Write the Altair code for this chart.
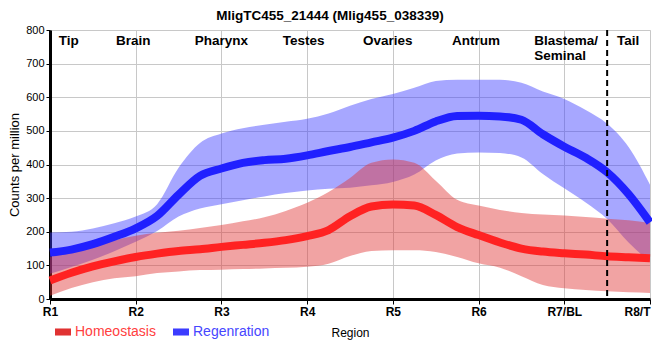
import altair as alt
import pandas as pd

# ---- data ----
x_pos = [1, 1.25, 1.5, 1.75, 2, 2.25, 2.5, 2.75, 3, 3.25, 3.5, 3.75, 4, 4.25,
         4.5, 4.75, 5, 5.25, 5.5, 5.75, 6, 6.25, 6.5, 6.75, 7, 7.25, 7.5, 7.75, 8]

homeo_mean = [55, 78, 97, 112, 125, 135, 143, 148, 155, 161, 167, 175, 187, 205,
              246, 275, 281, 278, 250, 214, 190, 168, 150, 141, 136, 132, 127, 124, 121]
homeo_hi = [125, 145, 160, 175, 188, 197, 203, 211, 220, 231, 243, 262, 286, 318,
            360, 405, 415, 405, 352, 295, 278, 265, 256, 251, 248, 244, 239, 234, 226]
homeo_lo = [10, 33, 50, 62, 68, 77, 82, 86, 87, 89, 91, 93, 96, 105,
            128, 143, 145, 145, 140, 125, 106, 93, 68, 42, 32, 27, 23, 20, 18]

regen_mean = [138, 147, 163, 185, 210, 247, 310, 366, 388, 405, 413, 417, 427, 440,
              452, 466, 480, 500, 528, 544, 545, 543, 533, 490, 453, 420, 377, 312, 228]
regen_hi = [198, 200, 210, 225, 245, 282, 390, 464, 492, 508, 518, 527, 536, 552,
            575, 595, 610, 628, 648, 652, 652, 652, 643, 617, 595, 562, 521, 452, 340]
regen_lo = [75, 95, 117, 142, 170, 202, 245, 269, 282, 294, 305, 315, 323, 328,
            331, 338, 348, 370, 412, 433, 436, 434, 421, 372, 329, 287, 238, 168, 110]

series_names = ["Homeostasis", "Regenration"]
tick_values = [1, 2, 3, 4, 5, 6, 7, 8]
tick_labels = ["R1", "R2", "R3", "R4", "R5", "R6", "R7/BL", "R8/T"]

region_names = ["Tip", "Brain", "Pharynx", "Testes", "Ovaries", "Antrum", "Tail"]
region_x = [1.22, 1.97, 3.0, 3.96, 4.94, 5.97, 7.745]
blastema_name = ["Blastema/\nSeminal"]
blastema_x = [6.65]
boundary_x = [7.5]

title_text = "MligTC455_21444 (Mlig455_038339)"

FONT = "Liberation Sans"

# ---- tables ----
rows = []
for i, xv in enumerate(x_pos):
    rows.append({"x": xv, "series": series_names[0], "mean": homeo_mean[i],
                 "lo": homeo_lo[i], "hi": homeo_hi[i]})
    rows.append({"x": xv, "series": series_names[1], "mean": regen_mean[i],
                 "lo": regen_lo[i], "hi": regen_hi[i]})
df = pd.DataFrame(rows)
df_h = df[df["series"] == series_names[0]]
df_r = df[df["series"] == series_names[1]]

regions_df = pd.DataFrame({"x": region_x, "label": region_names})
blastema_df = pd.DataFrame({"x": blastema_x, "label": blastema_name})
boundary_df = pd.DataFrame({"x": boundary_x})

label_expr = "[" + ",".join("'%s'" % t for t in tick_labels) + "][datum.value - 1]"
last_tick = tick_values[-1]

x_enc = alt.X(
    "x:Q",
    scale=alt.Scale(domain=[1, 8], nice=False, zero=False),
    axis=alt.Axis(
        values=tick_values, labelExpr=label_expr, title="Region",
        grid=True, gridColor="#c8c8c8", gridWidth=1,
        domainColor="black", domainWidth=3,
        tickColor="black", tickSize=5, tickWidth=1,
        labelFont=FONT, labelFontSize=12, labelFontWeight="bold", labelColor="black",
        labelAlign={"condition": {"test": "datum.value == %d" % last_tick, "value": "right"},
                    "value": "center"},
        labelPadding=2, labelFlush=False, labelOverlap=False, labelBound=False,
        titleFont=FONT, titleFontSize=12, titleFontWeight="normal", titleColor="black",
        titlePadding=10,
    ),
)

y_axis = alt.Axis(
    values=list(range(0, 801, 100)), title="Counts per million",
    grid=True, gridColor="#c8c8c8", gridWidth=1,
    domainColor="black", domainWidth=3,
    tickColor="black", tickSize=4, tickWidth=1,
    labelFont=FONT, labelFontSize=11, labelColor="black", labelPadding=2,
    labelFlush=False, labelOverlap=False,
    titleFont=FONT, titleFontSize=13, titleFontWeight="normal", titleColor="black",
    titlePadding=4,
)
y_scale = alt.Scale(domain=[0, 800], nice=False, zero=True)

fill_scale = alt.Scale(domain=series_names, range=["#e03232", "#3c3cff"])
stroke_scale = alt.Scale(domain=series_names, range=["#ff2222", "#2020ff"])

legend = alt.Legend(
    orient="none", legendX=5, legendY=294, direction="horizontal", title=None,
    symbolType="M-1,-0.44H1V0.44H-1Z", symbolSize=256, symbolOpacity=1,
    symbolStrokeWidth=0, labelFont=FONT, labelFontSize=14, labelOffset=4,
    columnPadding=17, padding=0,
    labelColor={"expr": "datum.value === 'Homeostasis' ? '#ff4040' : '#4646ff'"},
)

fill_enc = alt.Fill("series:N", scale=fill_scale, legend=legend)

band_r = alt.Chart(df_r).mark_area(opacity=0.45, interpolate="monotone").encode(
    x=x_enc,
    y=alt.Y("lo:Q", scale=y_scale, axis=y_axis),
    y2="hi:Q",
    fill=fill_enc,
)
band_h = alt.Chart(df_h).mark_area(opacity=0.45, interpolate="monotone").encode(
    x=x_enc,
    y=alt.Y("lo:Q", scale=y_scale, axis=y_axis),
    y2="hi:Q",
    fill=fill_enc,
)
lines = alt.Chart(df).mark_line(strokeWidth=8, interpolate="monotone").encode(
    x=x_enc,
    y=alt.Y("mean:Q", scale=y_scale, axis=y_axis),
    stroke=alt.Stroke("series:N", scale=stroke_scale, legend=None),
)
boundary = alt.Chart(boundary_df).mark_rule(
    color="black", strokeWidth=2, strokeDash=[6, 4]
).encode(x=x_enc)

region_text = alt.Chart(regions_df).mark_text(
    font=FONT, fontSize=13.5, fontWeight="bold", color="black",
    align="center", baseline="alphabetic",
).encode(x=x_enc, y=alt.value(15), text="label:N")

blastema_text = alt.Chart(blastema_df).mark_text(
    font=FONT, fontSize=13.5, fontWeight="bold", color="black",
    align="left", baseline="alphabetic", lineBreak="\n", lineHeight=15,
).encode(x=x_enc, y=alt.value(15), text="label:N")

chart = alt.layer(
    band_r, band_h, lines, boundary, region_text, blastema_text
).properties(
    width=600, height=269,
    title=alt.Title(title_text, font=FONT, fontSize=13.5, fontWeight="bold",
                    color="black", anchor="middle", dx=-20, offset=2),
    autosize=alt.AutoSizeParams(type="none"),
    padding={"left": 42, "top": 22, "right": 2, "bottom": 45},
).configure_view(
    stroke="black", strokeWidth=1
).configure(
    background="white"
)

chart.save("out.html", embed_options={"renderer": "svg", "actions": False})
